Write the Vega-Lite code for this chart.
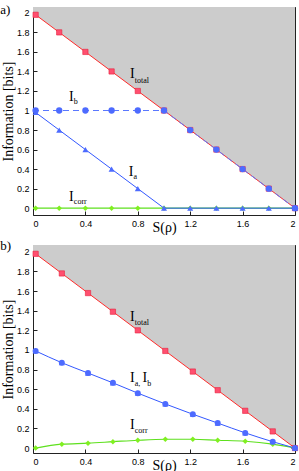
{
  "$schema": "https://vega.github.io/schema/vega-lite/v6.json",
  "autosize": {"type": "pad"},
  "padding": {"left": 0, "top": 3, "right": 0, "bottom": 0},
  "bounds": "flush",
  "spacing": 30,
  "config": {
    "view": {"stroke": null},
    "axis": {"grid": false, "zindex": 1, "domainColor": "#222", "domainWidth": 1, "tickColor": "#222", "tickWidth": 1, "tickSize": -4, "labelFont": "Liberation Sans", "labelFontSize": 9, "labelColor": "#000", "labelPadding": 8, "titleFont": "Liberation Serif", "titleFontSize": 14, "titleFontWeight": "normal", "titleColor": "#000"}
  },
  "datasets": {
    "a_area": [{"S": 0, "I": 2, "hi": 2.06}, {"S": 2, "I": 0, "hi": 2.06}],
    "b_area": [{"S": 0, "I": 2, "hi": 2.07}, {"S": 2, "I": 0, "hi": 2.07}],
    "a_lines": [
      {"s": "Itotal", "S": 0, "I": 2}, {"s": "Itotal", "S": 2, "I": 0},
      {"s": "Ib", "S": 0, "I": 1}, {"s": "Ib", "S": 1, "I": 1}, {"s": "Ib", "S": 2, "I": 0},
      {"s": "Ia", "S": 0, "I": 1}, {"s": "Ia", "S": 1, "I": 0}, {"s": "Ia", "S": 2, "I": 0},
      {"s": "Icorr", "S": 0, "I": 0}, {"s": "Icorr", "S": 2, "I": 0}
    ],
    "a_pts": [
      {"s": "Itotal", "S": 0.02, "I": 1.98}, {"s": "Itotal", "S": 0.2, "I": 1.8}, {"s": "Itotal", "S": 0.4, "I": 1.6}, {"s": "Itotal", "S": 0.6, "I": 1.4}, {"s": "Itotal", "S": 0.8, "I": 1.2}, {"s": "Itotal", "S": 1.0, "I": 1.0}, {"s": "Itotal", "S": 1.2, "I": 0.8}, {"s": "Itotal", "S": 1.4, "I": 0.6}, {"s": "Itotal", "S": 1.6, "I": 0.4}, {"s": "Itotal", "S": 1.8, "I": 0.2}, {"s": "Itotal", "S": 2.0, "I": 0},
      {"s": "Ib", "S": 0.02, "I": 1}, {"s": "Ib", "S": 0.2, "I": 1}, {"s": "Ib", "S": 0.4, "I": 1}, {"s": "Ib", "S": 0.6, "I": 1}, {"s": "Ib", "S": 0.8, "I": 1}, {"s": "Ib", "S": 1.0, "I": 1}, {"s": "Ib", "S": 1.2, "I": 0.8}, {"s": "Ib", "S": 1.4, "I": 0.6}, {"s": "Ib", "S": 1.6, "I": 0.4}, {"s": "Ib", "S": 1.8, "I": 0.2}, {"s": "Ib", "S": 2.0, "I": 0},
      {"s": "Ia", "S": 0.02, "I": 0.98}, {"s": "Ia", "S": 0.2, "I": 0.8}, {"s": "Ia", "S": 0.4, "I": 0.6}, {"s": "Ia", "S": 0.6, "I": 0.4}, {"s": "Ia", "S": 0.8, "I": 0.2}, {"s": "Ia", "S": 1.0, "I": 0}, {"s": "Ia", "S": 1.2, "I": 0}, {"s": "Ia", "S": 1.4, "I": 0}, {"s": "Ia", "S": 1.6, "I": 0}, {"s": "Ia", "S": 1.8, "I": 0}, {"s": "Ia", "S": 2.0, "I": 0},
      {"s": "Icorr", "S": 0.02, "I": 0}, {"s": "Icorr", "S": 0.2, "I": 0}, {"s": "Icorr", "S": 0.4, "I": 0}, {"s": "Icorr", "S": 0.6, "I": 0}, {"s": "Icorr", "S": 0.8, "I": 0}, {"s": "Icorr", "S": 1.0, "I": 0}, {"s": "Icorr", "S": 1.2, "I": 0}, {"s": "Icorr", "S": 1.4, "I": 0}, {"s": "Icorr", "S": 1.6, "I": 0}, {"s": "Icorr", "S": 1.8, "I": 0}, {"s": "Icorr", "S": 2.0, "I": 0}
    ],
    "b_lines": [{"s": "Itotal", "S": 0, "I": 2}, {"s": "Itotal", "S": 2, "I": 0}],
    "b_pts": [
      {"s": "Itotal", "S": 0.02, "I": 1.98}, {"s": "Itotal", "S": 0.22, "I": 1.78}, {"s": "Itotal", "S": 0.42, "I": 1.58}, {"s": "Itotal", "S": 0.61, "I": 1.39}, {"s": "Itotal", "S": 0.8, "I": 1.2}, {"s": "Itotal", "S": 1.01, "I": 0.99}, {"s": "Itotal", "S": 1.22, "I": 0.78}, {"s": "Itotal", "S": 1.41, "I": 0.59}, {"s": "Itotal", "S": 1.62, "I": 0.38}, {"s": "Itotal", "S": 1.83, "I": 0.17}, {"s": "Itotal", "S": 2.0, "I": 0},
      {"s": "Iab", "S": 0.02, "I": 0.99}, {"s": "Iab", "S": 0.22, "I": 0.87}, {"s": "Iab", "S": 0.42, "I": 0.765}, {"s": "Iab", "S": 0.61, "I": 0.665}, {"s": "Iab", "S": 0.8, "I": 0.56}, {"s": "Iab", "S": 1.01, "I": 0.45}, {"s": "Iab", "S": 1.22, "I": 0.345}, {"s": "Iab", "S": 1.41, "I": 0.255}, {"s": "Iab", "S": 1.62, "I": 0.155}, {"s": "Iab", "S": 1.83, "I": 0.065}, {"s": "Iab", "S": 2.0, "I": 0},
      {"s": "Icorr", "S": 0.02, "I": 0}, {"s": "Icorr", "S": 0.22, "I": 0.04}, {"s": "Icorr", "S": 0.42, "I": 0.05}, {"s": "Icorr", "S": 0.61, "I": 0.065}, {"s": "Icorr", "S": 0.8, "I": 0.08}, {"s": "Icorr", "S": 1.01, "I": 0.09}, {"s": "Icorr", "S": 1.22, "I": 0.09}, {"s": "Icorr", "S": 1.41, "I": 0.08}, {"s": "Icorr", "S": 1.62, "I": 0.07}, {"s": "Icorr", "S": 1.83, "I": 0.04}, {"s": "Icorr", "S": 2.0, "I": 0}
    ],
    "a_tag": [{"S": -0.25, "I": 2.03, "t": "a)"}],
    "b_tag": [{"S": -0.25, "I": 2.06, "t": "b)"}],
    "a_I": [{"S": 0.74, "I": 1.33, "t": "I"}, {"S": 0.275, "I": 1.1, "t": "I"}, {"S": 0.73, "I": 0.33, "t": "I"}, {"S": 0.275, "I": 0.077, "t": "I"}],
    "a_sub": [{"S": 0.777, "I": 1.28, "t": "total"}, {"S": 0.312, "I": 1.065, "t": "b"}, {"S": 0.767, "I": 0.295, "t": "a"}, {"S": 0.312, "I": 0.042, "t": "corr"}],
    "b_I": [{"S": 0.74, "I": 1.3, "t": "I"}, {"S": 0.74, "I": 0.67, "t": "I"}, {"S": 0.835, "I": 0.67, "t": "I"}, {"S": 0.74, "I": 0.19, "t": "I"}],
    "b_sub": [{"S": 0.777, "I": 1.25, "t": "total"}, {"S": 0.777, "I": 0.635, "t": "a,"}, {"S": 0.872, "I": 0.635, "t": "b"}, {"S": 0.777, "I": 0.155, "t": "corr"}]
  },
  "vconcat": [
    {
      "width": 262,
      "height": 208,
      "encoding": {
        "x": {"field": "S", "type": "quantitative", "scale": {"domain": [0, 2], "nice": false, "zero": false}, "axis": null},
        "y": {"field": "I", "type": "quantitative", "scale": {"domain": [-0.07, 2.06], "nice": false, "zero": false}, "axis": null}
      },
      "resolve": {"axis": {"x": "independent", "y": "independent"}},
      "layer": [
        {
          "data": {"name": "a_area"},
          "mark": {"type": "area", "color": "#cccccc", "clip": true},
          "encoding": {
            "x": {"field": "S", "type": "quantitative", "scale": {"domain": [0, 2], "nice": false, "zero": false}, "axis": {"orient": "bottom", "title": "S(ρ)", "values": [0, 0.4, 0.8, 1.2, 1.6, 2], "format": "~g", "titleY": 5, "titleBaseline": "top"}},
            "y": {"field": "I", "type": "quantitative", "scale": {"domain": [-0.07, 2.06], "nice": false, "zero": false}, "axis": {"orient": "left", "title": "Information [bits]", "values": [0, 0.2, 0.4, 0.6, 0.8, 1, 1.2, 1.4, 1.6, 1.8, 2], "format": "~g", "titleX": -25, "titleBaseline": "middle"}},
            "y2": {"field": "hi"}
          }
        },
        {
          "data": {"name": "a_lines"},
          "transform": [{"filter": "datum.s === 'Itotal'"}],
          "mark": {"type": "line", "color": "#ff2a2a", "strokeWidth": 1},
          "encoding": {
            "x": {"field": "S", "type": "quantitative", "scale": {"domain": [0, 2], "nice": false, "zero": false}, "axis": {"orient": "top", "labels": false, "title": null, "values": [0, 0.4, 0.8, 1.2, 1.6, 2]}},
            "y": {"field": "I", "type": "quantitative", "scale": {"domain": [-0.07, 2.06], "nice": false, "zero": false}, "axis": {"orient": "right", "labels": false, "title": null, "values": [0, 0.2, 0.4, 0.6, 0.8, 1, 1.2, 1.4, 1.6, 1.8, 2]}}
          }
        },
        {
          "data": {"name": "a_lines"},
          "transform": [{"filter": "datum.s === 'Icorr'"}],
          "mark": {"type": "line", "color": "#5ee01e", "strokeWidth": 1.2}
        },
        {
          "data": {"name": "a_pts"},
          "transform": [{"filter": "datum.s === 'Icorr'"}],
          "mark": {"type": "point", "shape": "diamond", "filled": true, "size": 30, "color": "#80f020", "opacity": 1}
        },
        {
          "data": {"name": "a_pts"},
          "transform": [{"filter": "datum.s === 'Itotal'"}],
          "mark": {"type": "point", "shape": "square", "filled": true, "size": 28, "color": "#ff4f6f", "stroke": "#e8203c", "strokeWidth": 0.6, "opacity": 1}
        },
        {
          "data": {"name": "a_lines"},
          "transform": [{"filter": "datum.s === 'Ia'"}],
          "mark": {"type": "line", "color": "#3358ff", "strokeWidth": 1}
        },
        {
          "data": {"name": "a_pts"},
          "transform": [{"filter": "datum.s === 'Ia'"}],
          "mark": {"type": "point", "shape": "triangle-up", "filled": true, "size": 36, "color": "#4d6bff", "opacity": 1}
        },
        {
          "data": {"name": "a_lines"},
          "transform": [{"filter": "datum.s === 'Ib'"}],
          "mark": {"type": "line", "color": "#5a78ff", "strokeWidth": 1, "strokeDash": [6, 4]}
        },
        {
          "data": {"name": "a_pts"},
          "transform": [{"filter": "datum.s === 'Ib'"}],
          "mark": {"type": "point", "shape": "circle", "filled": true, "size": 40, "color": "#4d6bff", "opacity": 1}
        },
        {
          "data": {"name": "a_tag"},
          "mark": {"type": "text", "font": "Liberation Serif", "fontSize": 13, "align": "left", "baseline": "middle", "color": "#000"},
          "encoding": {"text": {"field": "t"}}
        },
        {
          "data": {"name": "a_I"},
          "mark": {"type": "text", "font": "Liberation Serif", "fontSize": 14, "align": "left", "baseline": "alphabetic", "color": "#000"},
          "encoding": {"text": {"field": "t"}}
        },
        {
          "data": {"name": "a_sub"},
          "mark": {"type": "text", "font": "Liberation Serif", "fontSize": 8, "align": "left", "baseline": "alphabetic", "color": "#000"},
          "encoding": {"text": {"field": "t"}}
        }
      ]
    },
    {
      "width": 262,
      "height": 208,
      "encoding": {
        "x": {"field": "S", "type": "quantitative", "scale": {"domain": [0, 2], "nice": false, "zero": false}, "axis": null},
        "y": {"field": "I", "type": "quantitative", "scale": {"domain": [-0.05, 2.07], "nice": false, "zero": false}, "axis": null}
      },
      "resolve": {"axis": {"x": "independent", "y": "independent"}},
      "layer": [
        {
          "data": {"name": "b_area"},
          "mark": {"type": "area", "color": "#cccccc", "clip": true},
          "encoding": {
            "x": {"field": "S", "type": "quantitative", "scale": {"domain": [0, 2], "nice": false, "zero": false}, "axis": {"orient": "bottom", "title": "S(ρ)", "values": [0, 0.4, 0.8, 1.2, 1.6, 2], "format": "~g", "titleY": 5, "titleBaseline": "top"}},
            "y": {"field": "I", "type": "quantitative", "scale": {"domain": [-0.05, 2.07], "nice": false, "zero": false}, "axis": {"orient": "left", "title": "Information [bits]", "values": [0, 0.2, 0.4, 0.6, 0.8, 1, 1.2, 1.4, 1.6, 1.8, 2], "format": "~g", "titleX": -25, "titleBaseline": "middle"}},
            "y2": {"field": "hi"}
          }
        },
        {
          "data": {"name": "b_lines"},
          "mark": {"type": "line", "color": "#ff2a2a", "strokeWidth": 1},
          "encoding": {
            "x": {"field": "S", "type": "quantitative", "scale": {"domain": [0, 2], "nice": false, "zero": false}, "axis": {"orient": "top", "labels": false, "title": null, "values": [0, 0.4, 0.8, 1.2, 1.6, 2]}},
            "y": {"field": "I", "type": "quantitative", "scale": {"domain": [-0.05, 2.07], "nice": false, "zero": false}, "axis": {"orient": "right", "labels": false, "title": null, "values": [0, 0.2, 0.4, 0.6, 0.8, 1, 1.2, 1.4, 1.6, 1.8, 2]}}
          }
        },
        {
          "data": {"name": "b_pts"},
          "transform": [{"filter": "datum.s === 'Icorr'"}],
          "mark": {"type": "line", "color": "#5ee01e", "strokeWidth": 1.2, "interpolate": "monotone"}
        },
        {
          "data": {"name": "b_pts"},
          "transform": [{"filter": "datum.s === 'Icorr'"}],
          "mark": {"type": "point", "shape": "diamond", "filled": true, "size": 30, "color": "#80f020", "opacity": 1}
        },
        {
          "data": {"name": "b_pts"},
          "transform": [{"filter": "datum.s === 'Itotal'"}],
          "mark": {"type": "point", "shape": "square", "filled": true, "size": 28, "color": "#ff4f6f", "stroke": "#e8203c", "strokeWidth": 0.6, "opacity": 1}
        },
        {
          "data": {"name": "b_pts"},
          "transform": [{"filter": "datum.s === 'Iab'"}],
          "mark": {"type": "line", "color": "#3358ff", "strokeWidth": 1, "interpolate": "monotone"}
        },
        {
          "data": {"name": "b_pts"},
          "transform": [{"filter": "datum.s === 'Iab'"}],
          "mark": {"type": "point", "shape": "triangle-up", "filled": true, "size": 36, "color": "#4d6bff", "opacity": 1}
        },
        {
          "data": {"name": "b_pts"},
          "transform": [{"filter": "datum.s === 'Iab'"}],
          "mark": {"type": "point", "shape": "circle", "filled": true, "size": 36, "color": "#4d6bff", "opacity": 1}
        },
        {
          "data": {"name": "b_tag"},
          "mark": {"type": "text", "font": "Liberation Serif", "fontSize": 13, "align": "left", "baseline": "middle", "color": "#000"},
          "encoding": {"text": {"field": "t"}}
        },
        {
          "data": {"name": "b_I"},
          "mark": {"type": "text", "font": "Liberation Serif", "fontSize": 14, "align": "left", "baseline": "alphabetic", "color": "#000"},
          "encoding": {"text": {"field": "t"}}
        },
        {
          "data": {"name": "b_sub"},
          "mark": {"type": "text", "font": "Liberation Serif", "fontSize": 8, "align": "left", "baseline": "alphabetic", "color": "#000"},
          "encoding": {"text": {"field": "t"}}
        }
      ]
    }
  ]
}
